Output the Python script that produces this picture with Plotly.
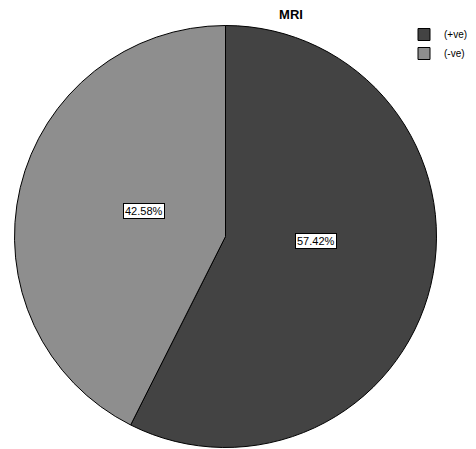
import plotly.graph_objects as go

# Data
labels = ["(+ve)", "(-ve)"]
values = [57.42, 42.58]
colors = ["#434343", "#8e8e8e"]
title_text = "MRI"

# The page body adds an 8px offset; figure is sized to the visible area.
W, H = 468, 441

# Label box positions (paper coords)
label_pos = [(308 / W, 1 - 233.5 / H), (114.5 / W, 1 - 203 / H)]

fig = go.Figure()
fig.add_trace(go.Pie(
    labels=labels,
    values=values,
    sort=False,
    direction="clockwise",
    rotation=0,
    marker=dict(colors=colors, line=dict(color="#000000", width=1)),
    textinfo="none",
    hoverinfo="skip",
    domain=dict(x=[5 / W, 430 / W], y=[1.5 / H, 423.5 / H]),
))

total = sum(values)
for v, (px, py) in zip(values, label_pos):
    fig.add_annotation(
        x=px, y=py, xref="paper", yref="paper",
        text=f"{100 * v / total:.2f}%",
        showarrow=False,
        font=dict(family="Liberation Sans, Arial", size=11, color="#000000"),
        bgcolor="#ffffff",
        bordercolor="#000000",
        borderwidth=1,
        borderpad=1,
    )

fig.update_layout(
    width=W, height=H,
    margin=dict(l=0, r=0, t=0, b=0),
    paper_bgcolor="#ffffff",
    plot_bgcolor="#ffffff",
    title=dict(
        text=f"<b>{title_text}</b>",
        x=283 / W, xanchor="center", xref="container",
        y=1 - 6.5 / H, yanchor="middle", yref="container",
        font=dict(family="Liberation Sans, Arial", size=13, color="#000000"),
    ),
    legend=dict(
        x=1 - 3 / W, xanchor="right", y=1 - 12 / H, yanchor="top",
        font=dict(family="Liberation Sans, Arial", size=10, color="#000000"),
        bgcolor="rgba(0,0,0,0)",
        traceorder="normal",
        tracegroupgap=0,
    ),
    showlegend=True,
)

fig.write_html("out.html")
